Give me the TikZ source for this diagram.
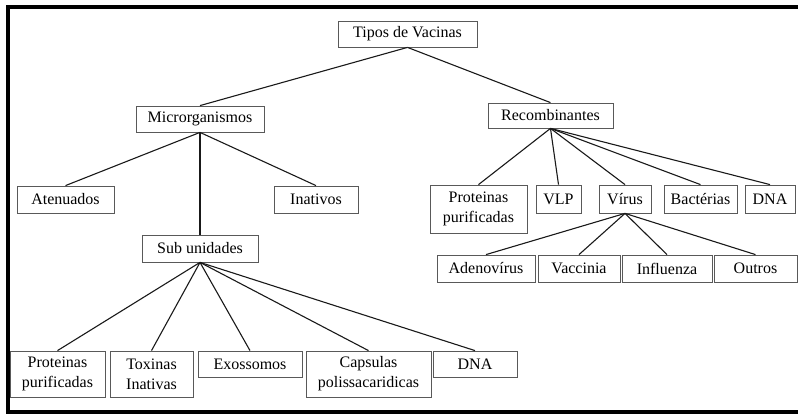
\documentclass[tikz,border=0pt]{standalone}
\usepackage{fontspec}
\setmainfont{Liberation Serif}
\begin{document}
\begin{tikzpicture}[x=1pt,y=-1pt,
  box/.style={draw=black!65, line width=0.8pt, inner sep=0pt, align=center,
    font=\fontsize{16}{20}\selectfont},
  link/.style={draw=black!90, line width=1.1pt}]
\useasboundingbox (0,0) rectangle (798,414);
\draw[line width=4pt] (800,7) -- (8,7) -- (8,412) -- (800,412);
% nodes
\node[box, minimum width=139pt, minimum height=26pt] (tipos) at (407.5,34) {Tipos de Vacinas};
\node[box, minimum width=128pt, minimum height=26pt] (micro) at (200,119) {Microrganismos};
\node[box, minimum width=125pt, minimum height=25pt] (recomb) at (550.5,115.5) {Recombinantes};
\node[box, minimum width=97pt, minimum height=27pt] (aten) at (65.5,199.5) {Atenuados};
\node[box, minimum width=84pt, minimum height=27pt] (inat) at (316,199.5) {Inativos};
\node[box, minimum width=116pt, minimum height=27pt] (sub) at (200,248.5) {Sub unidades};
\node[box, minimum width=95pt, minimum height=46pt] (p1) at (57.5,374) {Proteinas\\purificadas};
\node[box, minimum width=83pt, minimum height=46pt] (tox) at (151.5,374) {Toxinas\\Inativas};
\node[box, minimum width=104pt, minimum height=26pt] (exo) at (250,364) {Exossomos};
\node[box, minimum width=125pt, minimum height=46pt] (cap) at (368.5,374) {Capsulas\\polissacaridicas};
\node[box, minimum width=84pt, minimum height=26pt] (dnaA) at (475,364) {DNA};
\node[box, minimum width=97pt, minimum height=48pt] (p2) at (478.5,209) {Proteinas\\purificadas};
\node[box, minimum width=45pt, minimum height=28pt] (vlp) at (558.5,199) {VLP};
\node[box, minimum width=52pt, minimum height=28pt] (virus) at (625,199) {Vírus};
\node[box, minimum width=73pt, minimum height=28pt] (bact) at (700.5,199) {Bactérias};
\node[box, minimum width=50pt, minimum height=28pt] (dnaB) at (770,199) {DNA};
\node[box, minimum width=98pt, minimum height=27pt] (adeno) at (486,268.5) {Adenovírus};
\node[box, minimum width=82pt, minimum height=27pt] (vacc) at (579,268.5) {Vaccinia};
\node[box, minimum width=90pt, minimum height=27pt] (infl) at (667,268.5) {Influenza};
\node[box, minimum width=83pt, minimum height=27pt] (outros) at (755.5,268.5) {Outros};
% connectors
\foreach \c in {micro,recomb} \draw[link] (tipos.south) -- (\c.north);
\foreach \c in {aten,inat,sub} \draw[link] (micro.south) -- (\c.north);
\foreach \c in {p1,tox,exo,cap,dnaA} \draw[link] (sub.south) -- (\c.north);
\foreach \c in {p2,vlp,virus,bact,dnaB} \draw[link] (recomb.south) -- (\c.north);
\foreach \c in {adeno,vacc,infl,outros} \draw[link] (virus.south) -- (\c.north);
\end{tikzpicture}
\end{document}
